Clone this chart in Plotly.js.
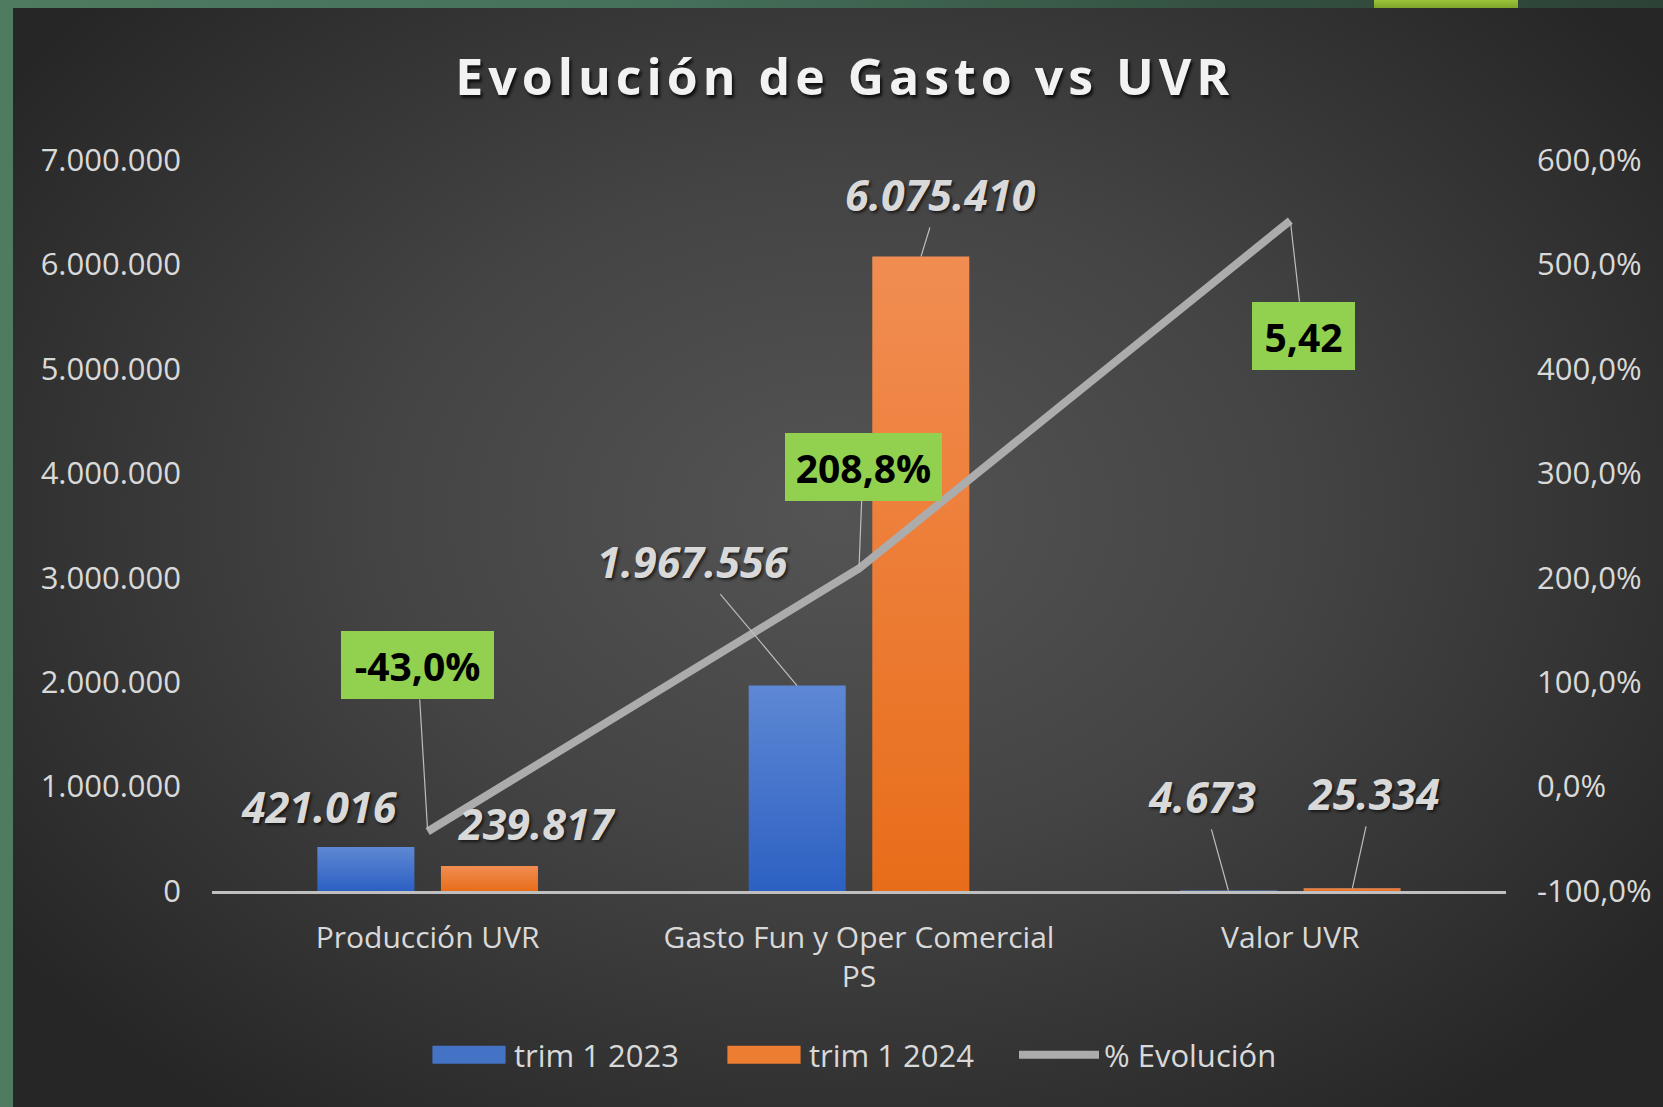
<!DOCTYPE html>
<html>
<head>
<meta charset="utf-8">
<script src="https://cdn.plot.ly/plotly-3.0.1.min.js"></script>
<style>
  html, body { margin: 0; padding: 0; background: #2f4a3d; }
  #frame {
    position: relative; width: 1663px; height: 1107px; overflow: hidden;
    background: linear-gradient(90deg, #4f7b61 0%, #45705a 40%, #33503f 75%, #2c4236 100%);
  }
  #accent { position: absolute; left: 1374px; top: 0; width: 144px; height: 8px;
    background: linear-gradient(180deg, #9cc43a, #7ea52a); }
  #panel {
    position: absolute; left: 13px; top: 8px; right: 0; bottom: 0;
    background: radial-gradient(ellipse 62% 68% at 50% 46%, #545454 0%, #444444 45%, #313131 80%, #262626 100%);
  }
  #chart { position: absolute; left: 0; top: 0; width: 1663px; height: 1107px; }
  .gtitle { letter-spacing: 5px; text-shadow: 2px 3px 3px rgba(0,0,0,0.75); }
</style>
</head>
<body>
<div id="frame">
  <div id="accent"></div>
  <div id="panel"></div>
  <div id="chart"></div>
</div>
<script>
// ---- data ----
const categories = ['Producción UVR', 'Gasto Fun y Oper Comercial<br>PS', 'Valor UVR'];
const seriesNames = ['trim 1 2023', 'trim 1 2024', '% Evolución'];
const trim2023 = [421016, 1967556, 4673];
const trim2024 = [239817, 6075410, 25334];
const evolucion = [-0.43, 2.088, 5.42];
const evolucionLabels = ['-43,0%', '208,8%', '5,42'];
const leftTicks = [0, 1000000, 2000000, 3000000, 4000000, 5000000, 6000000, 7000000];
const rightTicks = [-1, 0, 1, 2, 3, 4, 5, 6];

// ---- helpers ----
function fmtThousands(v) {
  return String(Math.round(v)).replace(/\B(?=(\d{3})+(?!\d))/g, '.');
}
function fmtPct(v) {
  return (v * 100).toFixed(1).replace('.', ',') + '%';
}

const FONT = '"Open Sans", "Noto Sans", "DejaVu Sans", sans-serif';
const LABEL_COLOR = '#d9d9d9';

const traces = [
  {
    type: 'bar', name: seriesNames[0], x: [0, 1, 2], y: trim2023,
    marker: { color: '#4472c4', line: { width: 0 } },
    hoverinfo: 'none'
  },
  {
    type: 'bar', name: seriesNames[1], x: [0, 1, 2], y: trim2024,
    marker: { color: '#ed7d31', line: { width: 0 } },
    hoverinfo: 'none'
  },
  {
    type: 'scatter', mode: 'lines', name: seriesNames[2], x: [0, 1, 2], y: evolucion,
    yaxis: 'y2', line: { color: '#acacac', width: 8 },
    hoverinfo: 'none'
  }
];

// bar-value label placement (pixel offsets from bar top), leader flag
const barOffset = 62;
const barLabelPlacement = [
  [{ ax: -46, ay: -41, lead: false }, { ax: -104, ay: -124, lead: true }, { ax: -26, ay: -94, lead: true }],
  [{ ax: 47, ay: -42, lead: false }, { ax: 19, ay: -62, lead: true }, { ax: 21, ay: -95, lead: true }]
];
const pctPlacement = [
  { ax: -10, ay: -166, w: 153 },
  { ax: 4, ay: -102, w: 157 },
  { ax: 13, ay: 115, w: 103 }
];

const annotations = [];
[trim2023, trim2024].forEach((arr, s) => {
  arr.forEach((v, i) => {
    const p = barLabelPlacement[s][i];
    annotations.push({
      x: i, y: v, xref: 'x', yref: 'y',
      xshift: s === 0 ? -barOffset : barOffset,
      text: '<b><i>' + fmtThousands(v) + '</i></b>',
      font: { family: FONT, size: 43, color: LABEL_COLOR },
      showarrow: true, arrowhead: 0, ax: p.ax, ay: p.ay,
      arrowcolor: p.lead ? '#bdbdbd' : 'rgba(0,0,0,0)', arrowwidth: 1.2,
      standoff: 0, startstandoff: 2
    });
  });
});
evolucion.forEach((v, i) => {
  const p = pctPlacement[i];
  annotations.push({
    x: i, y: v, xref: 'x', yref: 'y2',
    text: '<b>' + evolucionLabels[i] + '</b>',
    font: { family: FONT, size: 39, color: '#000000' },
    bgcolor: '#92d050', borderpad: 0, borderwidth: 0,
    width: p.w, height: 68, align: 'center', valign: 'middle',
    showarrow: true, arrowhead: 0, ax: p.ax, ay: p.ay,
    arrowcolor: '#bdbdbd', arrowwidth: 1.2, standoff: 2
  });
});

const layout = {
  width: 1663, height: 1107,
  paper_bgcolor: 'rgba(0,0,0,0)', plot_bgcolor: 'rgba(0,0,0,0)',
  separators: ',.',
  margin: { l: 212, r: 157, t: 160, b: 216, pad: 0 },
  title: {
    text: '<b>Evolución de Gasto vs UVR</b>',
    font: { family: FONT, size: 50, color: '#f2f2f2' },
    x: 0.508, xref: 'container', xanchor: 'center',
    y: 1 - 77 / 1107, yref: 'container', yanchor: 'middle'
  },
  barmode: 'group', bargap: 0.427, bargroupgap: 0.215,
  showlegend: true,
  legend: {
    orientation: 'h', xref: 'container', yref: 'container',
    x: 424 / 1663, xanchor: 'left', y: 1 - 1055 / 1107, yanchor: 'middle',
    font: { family: FONT, size: 31, color: '#d9d9d9' },
    itemwidth: 80, traceorder: 'normal', bgcolor: 'rgba(0,0,0,0)',
    entrywidth: 200, entrywidthmode: 'pixels'
  },
  xaxis: {
    type: 'linear', range: [-0.5, 2.5],
    tickmode: 'array', tickvals: [0, 1, 2], ticktext: categories,
    showgrid: false, zeroline: false,
    showline: true, linecolor: '#bfbfbf', linewidth: 2.5,
    ticks: '', ticklabelstandoff: 18,
    tickfont: { family: FONT, size: 30, color: '#d9d9d9' }
  },
  yaxis: {
    range: [0, 7000000], tickmode: 'array', tickvals: leftTicks,
    ticktext: leftTicks.map(fmtThousands),
    showgrid: false, zeroline: false, showline: false, ticks: '',
    ticklabelstandoff: 30,
    tickfont: { family: FONT, size: 31, color: '#d9d9d9' }
  },
  yaxis2: {
    overlaying: 'y', side: 'right',
    range: [-1, 6], tickmode: 'array', tickvals: rightTicks,
    ticktext: rightTicks.map(fmtPct),
    showgrid: false, zeroline: false, showline: false, ticks: '',
    ticklabelstandoff: 30,
    tickfont: { family: FONT, size: 31, color: '#d9d9d9' }
  },
  annotations: annotations
};

Plotly.newPlot('chart', traces, layout, { displayModeBar: false, staticPlot: true }).then(gd => {
  // vertical gradients on bars (lighter at top) like the original
  const svg = gd.querySelector('.main-svg');
  const ns = 'http://www.w3.org/2000/svg';
  let defs = svg.querySelector('defs');
  if (!defs) { defs = document.createElementNS(ns, 'defs'); svg.insertBefore(defs, svg.firstChild); }
  const grads = [['gBlue', '#5e88d4', '#2c60c2'], ['gOrange', '#f18d52', '#e86d1a']];
  grads.forEach(([id, c1, c2]) => {
    const g = document.createElementNS(ns, 'linearGradient');
    g.setAttribute('id', id); g.setAttribute('x1', '0'); g.setAttribute('y1', '0');
    g.setAttribute('x2', '0'); g.setAttribute('y2', '1');
    [[0, c1], [1, c2]].forEach(([o, c]) => {
      const st = document.createElementNS(ns, 'stop');
      st.setAttribute('offset', o); st.setAttribute('stop-color', c);
      g.appendChild(st);
    });
    defs.appendChild(g);
  });
  gd.querySelectorAll('.barlayer .trace').forEach((tr, k) => {
    tr.querySelectorAll('.point path').forEach(p => { p.style.fill = 'url(#' + grads[k][0] + ')'; });
  });
  // wider legend swatches for the bar series (keep Plotly's own positioning transform)
  gd.querySelectorAll('.legend .legendpoints path').forEach(p => {
    const t = p.getAttribute('transform') || '';
    p.setAttribute('transform', t + ' scale(6.1,1.5)');
  });
  // shadows on light label texts only
  gd.querySelectorAll('.annotation-text').forEach(t => {
    const f = (t.style.fill || '').replace(/\s/g, '');
    if (f !== 'rgb(0,0,0)' && f !== '#000000') t.style.textShadow = '2px 2px 3px rgba(0,0,0,0.6)';
  });
});
</script>
</body>
</html>
